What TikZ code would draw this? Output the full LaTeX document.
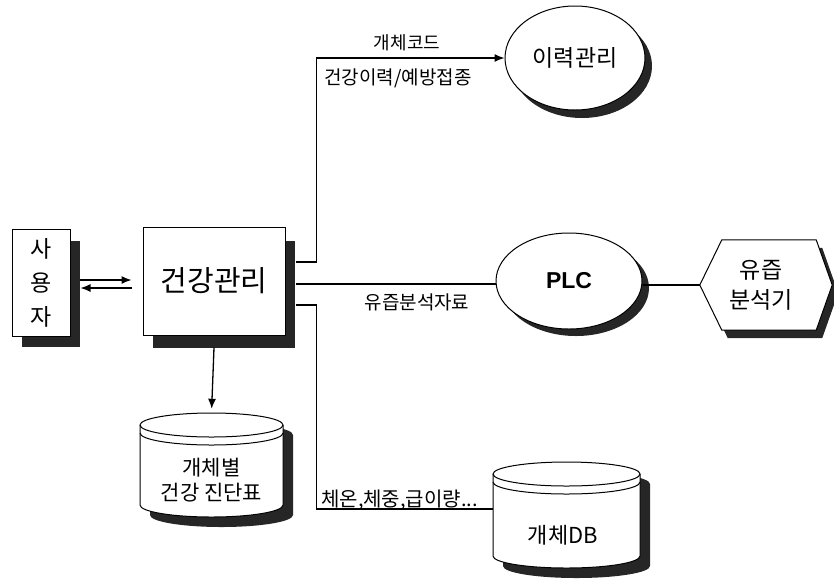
\documentclass[tikz,border=0pt]{standalone}
\usepackage{fontspec}
\setmainfont{Noto Sans CJK KR}
\newfontfamily\plcfont{Liberation Sans}
\usetikzlibrary{arrows.meta,calc,shapes.geometric}
\begin{document}
\begin{tikzpicture}[x=1pt,y=-1pt,
  line/.style={line width=1.3pt},
  arr/.style={line, -{Latex[length=10pt,width=8pt]}},
  shd/.style={fill=black!85, draw=none},
  box/.style={draw, line width=1pt, fill=white},
  lbl/.style={font=\fontsize{19}{21}\selectfont, inner sep=0pt},
]
\useasboundingbox (0,0) rectangle (834,579);

% user box
\fill[shd] (22,241) rectangle (80,347);
\node[box, minimum width=58pt, minimum height=107pt, inner sep=0pt, align=center,
      font=\fontsize{23}{34}\selectfont] (us) at (41,282.5) {사\\용\\자};

% health management box
\fill[shd] (153,241) rectangle (295,348);
\node[box, minimum width=142pt, minimum height=108pt, inner sep=0pt,
      font=\fontsize{29}{32}\selectfont] (hb) at (214,281) {\raisebox{2pt}{건강관리}};

% history ellipse
\fill[shd] (582,66) ellipse [x radius=70pt, y radius=52pt];
\node[box, ellipse, minimum width=140pt, minimum height=104pt, inner sep=0pt,
      font=\fontsize{23}{25}\selectfont] (hist) at (575,58) {이력관리};

% PLC ellipse
\fill[shd] (576,288) ellipse [x radius=73pt, y radius=48pt];
\node[box, ellipse, minimum width=146pt, minimum height=96pt, inner sep=0pt,
      font=\plcfont\bfseries\fontsize{23}{25}\selectfont] (plc) at (569,281) {PLC};

% milk analyser hexagon
\node[minimum width=132pt, minimum height=90pt, inner sep=0pt] (hx) at (766,285) {};
\fill[shd] ($(hx.west)+(6,8)$) -- ($(hx.north west)+(28,8)$) -- ($(hx.north east)+(-10,8)$)
   -- ($(hx.east)+(6,8)$) -- ($(hx.south east)+(-10,8)$) -- ($(hx.south west)+(28,8)$) -- cycle;
\filldraw[fill=white, line width=1pt] (hx.west) -- ($(hx.north west)+(22,0)$) -- ($(hx.north east)+(-16,0)$)
   -- (hx.east) -- ($(hx.south east)+(-16,0)$) -- ($(hx.south west)+(22,0)$) -- cycle;
\node[align=center, inner sep=0pt, font=\fontsize{23}{30}\selectfont] (hxt) at (761,285) {유즙\\분석기};

% cylinder 1 (health chart)
\begin{scope}[shift={(211.5,425)}]
  \path[shd] (-61.5,10) -- (-61.5,90) arc[start angle=180,end angle=360,x radius=71.5pt,y radius=12pt]
     -- (81.5,10) arc[start angle=0,end angle=180,x radius=71.5pt,y radius=12pt] -- cycle;
  \path[box] (-71.5,0) -- (-71.5,80) arc[start angle=180,end angle=360,x radius=71.5pt,y radius=12pt]
     -- (71.5,0) arc[start angle=0,end angle=180,x radius=71.5pt,y radius=12pt] -- cycle;
  \draw[line width=1pt] (-71.5,0) arc[start angle=180,end angle=360,x radius=71.5pt,y radius=12pt];
  \draw[line width=1pt] (-71.5,8) arc[start angle=180,end angle=360,x radius=71.5pt,y radius=12pt];
\end{scope}
\node[minimum width=143pt, minimum height=134pt, inner sep=0pt, align=center,
      font=\fontsize{21}{25}\selectfont] (c1) at (211.5,480) {개체별\\건강 진단표};

% cylinder 2 (DB)
\begin{scope}[shift={(566.5,474)}]
  \path[shd] (-63.5,10) -- (-63.5,92) arc[start angle=180,end angle=360,x radius=73.5pt,y radius=12pt]
     -- (83.5,10) arc[start angle=0,end angle=180,x radius=73.5pt,y radius=12pt] -- cycle;
  \path[box] (-73.5,0) -- (-73.5,82) arc[start angle=180,end angle=360,x radius=73.5pt,y radius=12pt]
     -- (73.5,0) arc[start angle=0,end angle=180,x radius=73.5pt,y radius=12pt] -- cycle;
  \draw[line width=1pt] (-73.5,0) arc[start angle=180,end angle=360,x radius=73.5pt,y radius=12pt];
  \draw[line width=1pt] (-73.5,8) arc[start angle=180,end angle=360,x radius=73.5pt,y radius=12pt];
\end{scope}
\node[minimum width=147pt, minimum height=94pt, inner sep=0pt] (db) at (566.5,509) {};
\node[inner sep=0pt, font=\fontsize{22}{24}\selectfont] (dbt) at (563,535) {개체DB};

% connectors user <-> health
\coordinate (ya) at (0,280);
\coordinate (yb) at (0,288);
\draw[arr] ($(us.east |- ya)+(9,0)$) -- ($(hb.west |- ya)+(-11,0)$);
\draw[arr] ($(hb.west |- yb)+(-11,0)$) -- ($(us.east |- yb)+(10,0)$);

% health -> chart
\draw[arr, shorten >=4pt] ($(hb.south)+(0,12)$) -- (c1.north);

% health -> history
\draw[arr] ($(hb.east)+(10,-19)$) -- ++(21,0) |- (hist.west);
% health -- PLC
\coordinate (hm) at ($(hb.east)+(10,3)$);
\draw[line] (hm) -- (hm -| plc.west);
% PLC -- analyser
\draw[line] (plc.east |- hx.west) -- (hx.west);
% health -- DB
\draw[line] ($(hb.east)+(10,24)$) -- ++(21,0) |- (db.west);

% labels
\node[lbl, font=\fontsize{18}{20}\selectfont] (l1) at (407,43) {개체코드};
\node[lbl] (l2) at (398,78) {건강이력/예방접종};
\node[lbl] (l3) at (417,302) {유즙분석자료};
\node[lbl, font=\fontsize{20}{22}\selectfont, anchor=west] (l4) at (321,500) {체온,체중,급이량...};
\end{tikzpicture}
\end{document}
